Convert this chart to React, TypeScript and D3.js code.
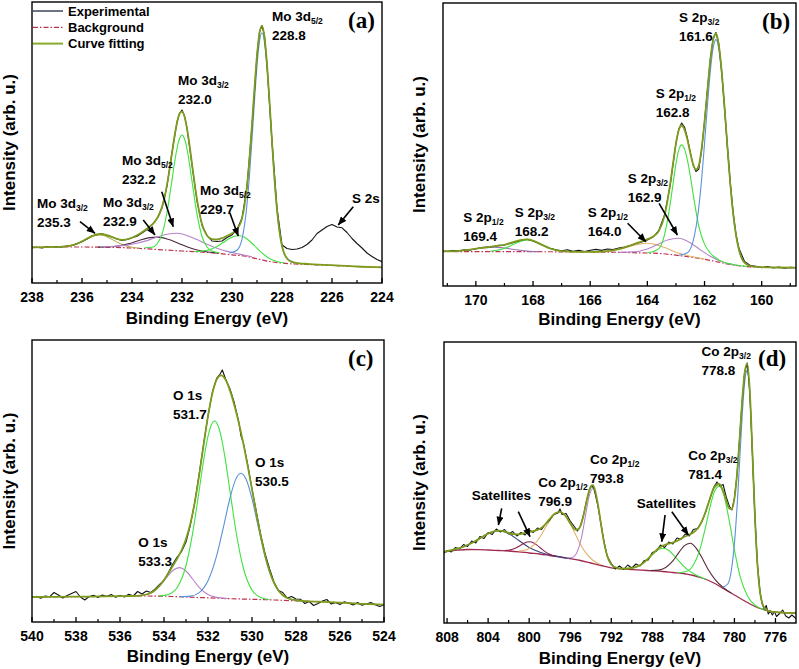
import React from "react";
import * as d3 from "d3";

type Pt = [number, number];

const FONT = "'Liberation Sans', Arial, Helvetica, sans-serif";
const SERIF = "'Liberation Serif', 'Times New Roman', serif";

// ---------------- Panel (a): Mo 3d / S 2s ----------------
const aTicksMajor = [238, 236, 234, 232, 230, 228, 226, 224];
const aTicksMinor = [237, 235, 233, 231, 229, 227, 225];
const aExp: Pt[] = [[238.0,353],[237.8,358],[237.6,350],[237.4,362],[237.2,356],[237.0,364],[236.8,360],[236.6,370],[236.4,376],[236.2,395],[236.0,412],[235.8,440],[235.6,472],[235.4,483],[235.2,492],[235.0,476],[234.8,460],[234.6,440],[234.4,426],[234.2,435],[234.0,452],[233.8,468],[233.6,500],[233.4,534],[233.2,580],[233.0,645],[232.8,750],[232.6,970],[232.4,1305],[232.2,1610],[232.1,1695],[232.0,1730],[231.9,1670],[231.8,1550],[231.6,1180],[231.4,820],[231.2,575],[231.0,475],[230.8,420],[230.6,415],[230.4,420],[230.2,455],[230.0,480],[229.8,535],[229.6,650],[229.4,960],[229.2,1570],[229.0,2280],[228.9,2510],[228.8,2575],[228.7,2470],[228.6,2190],[228.4,1420],[228.2,750],[228.0,380],[227.8,345],[227.6,335],[227.4,340],[227.2,355],[227.0,385],[226.8,430],[226.6,495],[226.4,530],[226.2,565],[226.0,585],[225.8,560],[225.6,552],[225.4,505],[225.2,445],[225.0,395],[224.8,350],[224.6,300],[224.4,265],[224.2,235],[224.0,213]];
const aBg: Pt[] = [[238,357],[237,360],[236,360],[235,357],[234,350],[233,335],[232,320],[231,305],[230,282],[229.5,270],[229,243],[228.5,215],[228,199],[227.5,190],[227,185],[226,175],[225,165],[224,157]];
const aFit: Pt[] = [[238,357],[237.4,359],[236.9,362],[236.5,372],[236.2,392],[235.9,430],[235.6,469],[235.3,490],[235.0,478],[234.7,450],[234.4,431],[234.1,444],[233.8,478],[233.5,526],[233.3,563],[233.1,609],[232.9,691],[232.7,853],[232.5,1134],[232.4,1300],[232.3,1465],[232.2,1602],[232.1,1691],[232.0,1713],[231.9,1664],[231.8,1544],[231.7,1381],[231.6,1192],[231.5,1005],[231.4,836],[231.3,696],[231.2,590],[231.0,475],[230.8,438],[230.6,435],[230.4,449],[230.2,472],[230.0,498],[229.8,537],[229.6,644],[229.5,774],[229.4,970],[229.3,1246],[229.2,1586],[229.1,1950],[229.0,2277],[228.9,2502],[228.8,2571],[228.7,2459],[228.6,2189],[228.5,1818],[228.4,1415],[228.3,1040],[228.2,736],[228.1,514],[228.0,370],[227.9,289],[227.8,245],[227.6,208],[227.3,196],[227.0,191],[226.0,178],[225.0,165],[224.0,157]];
const aMo3d32_2353: Pt[] = [[236.9,362],[236.5,372],[236.3,383],[236.1,402],[235.9,427],[235.7,453],[235.5,474],[235.3,481],[235.1,472],[234.9,450],[234.7,423],[234.5,397],[234.3,376],[234.1,363],[233.7,347]];
const aMo3d32_2329: Pt[] = [[235.35,359],[234.95,362],[234.55,370],[234.15,391],[233.75,422],[233.35,451],[232.95,459],[232.55,437],[232.15,398],[231.75,357],[231.35,327],[230.95,310],[230.55,297]];
const aMo3d52_2322: Pt[] = [[235.2,363],[234.7,368],[234.2,379],[233.8,398],[233.4,424],[233.0,459],[232.6,488],[232.2,497],[231.8,476],[231.4,434],[231.0,388],[230.6,348],[230.2,316],[229.7,289],[229.2,261]];
const aMo3d32_2320: Pt[] = [[233.5,353],[233.2,358],[233.0,390],[232.8,488],[232.6,705],[232.4,1029],[232.3,1200],[232.2,1345],[232.1,1445],[232.0,1480],[231.9,1443],[231.8,1340],[231.7,1192],[231.6,1018],[231.4,688],[231.2,465],[231.0,360],[230.8,320],[230.5,303]];
const aMo3d52_2297: Pt[] = [[231.5,315],[231.2,319],[230.9,333],[230.7,352],[230.5,380],[230.3,413],[230.1,446],[229.9,467],[229.7,472],[229.5,457],[229.3,420],[229.1,373],[228.9,324],[228.7,280],[228.5,245],[228.2,215],[227.9,200]];
const aMo3d52_2288: Pt[] = [[230.1,301],[229.8,328],[229.6,438],[229.4,787],[229.3,1079],[229.2,1438],[229.1,1823],[229.0,2172],[228.9,2417],[228.8,2502],[228.7,2405],[228.6,2147],[228.5,1788],[228.4,1393],[228.3,1026],[228.2,726],[228.0,366],[227.8,246],[227.5,205]];

// ---------------- Panel (b): S 2p ----------------
const bTicksMajor = [170, 168, 166, 164, 162, 160];
const bTicksMinor = [171, 169, 167, 165, 163, 161, 159];
const bExp: Pt[] = [[171.15,350],[171.0,346],[170.8,354],[170.6,352],[170.4,363],[170.2,360],[170.0,372],[169.8,384],[169.6,390],[169.4,392],[169.2,406],[169.0,410],[168.8,426],[168.6,442],[168.4,460],[168.2,468],[168.0,450],[167.8,426],[167.6,400],[167.4,378],[167.2,362],[167.0,352],[166.8,363],[166.6,346],[166.4,356],[166.2,344],[166.0,357],[165.8,366],[165.6,356],[165.4,370],[165.2,365],[165.0,380],[164.8,390],[164.6,405],[164.4,425],[164.2,440],[164.0,460],[163.8,490],[163.6,555],[163.4,710],[163.2,1010],[163.1,1220],[163.0,1430],[162.9,1570],[162.8,1630],[162.7,1590],[162.6,1480],[162.5,1340],[162.4,1210],[162.3,1145],[162.2,1170],[162.1,1360],[162.0,1650],[161.9,1960],[161.8,2260],[161.7,2470],[161.6,2535],[161.5,2420],[161.4,2150],[161.3,1790],[161.2,1400],[161.1,1040],[161.0,740],[160.9,520],[160.8,380],[160.6,245],[160.4,205],[160.2,197],[160.0,183],[159.8,195],[159.6,180],[159.4,189],[159.2,178],[159.0,186],[158.8,182]];
const bBg: Pt[] = [[171.15,345],[170,344],[168,343],[166,340],[165,337],[164.5,333],[164,330],[163.5,324],[163,308],[162.5,290],[162,268],[161.5,238],[161,210],[160.5,194],[160,188],[158.8,183]];
const bFit: Pt[] = [[171.15,346],[170.6,351],[170.2,363],[169.8,381],[169.4,396],[169.0,412],[168.7,438],[168.4,462],[168.2,466],[168.0,454],[167.7,414],[167.4,375],[167.0,348],[166.5,341],[166.0,341],[165.5,346],[165.0,368],[164.6,403],[164.3,436],[164.0,468],[163.8,495],[163.6,550],[163.4,703],[163.2,1023],[163.1,1228],[163.0,1423],[162.9,1559],[162.8,1605],[162.7,1562],[162.6,1464],[162.5,1333],[162.4,1219],[162.3,1164],[162.2,1206],[162.1,1378],[162.0,1642],[161.9,1950],[161.8,2256],[161.7,2459],[161.6,2525],[161.5,2409],[161.4,2147],[161.3,1786],[161.2,1394],[161.1,1028],[161.0,729],[160.9,512],[160.8,368],[160.6,234],[160.3,193],[160.0,188],[159.5,185],[158.8,183]];
const bS2p12_1694: Pt[] = [[171.0,345],[170.6,350],[170.2,363],[169.8,380],[169.4,389],[169.0,380],[168.6,362],[168.2,349],[167.8,344]];
const bS2p32_1682: Pt[] = [[169.5,348],[169.1,367],[168.8,400],[168.6,428],[168.4,451],[168.2,460],[168.0,451],[167.8,428],[167.6,400],[167.3,365],[166.9,346]];
const bS2p12_1640: Pt[] = [[166.0,341],[165.5,346],[165.0,367],[164.6,397],[164.3,419],[164.0,427],[163.7,414],[163.4,384],[163.0,338],[162.5,297],[162.0,269]];
const bS2p32_1629: Pt[] = [[165.0,338],[164.5,341],[164.0,371],[163.6,421],[163.3,460],[162.9,477],[162.5,432],[162.2,373],[161.8,297],[161.3,233],[160.8,203]];
const bS2p12_1628: Pt[] = [[164.0,330],[163.6,374],[163.4,512],[163.2,823],[163.1,1027],[163.0,1222],[162.9,1362],[162.8,1411],[162.7,1369],[162.6,1261],[162.5,1103],[162.4,924],[162.3,749],[162.2,597],[162.0,419],[161.8,330],[161.5,261],[161.0,215],[160.5,194]];
const bS2p32_1616: Pt[] = [[162.9,307],[162.6,332],[162.4,448],[162.2,788],[162.1,1073],[162.0,1425],[161.9,1800],[161.8,2141],[161.7,2381],[161.6,2464],[161.5,2369],[161.4,2117],[161.3,1764],[161.2,1377],[161.1,1016],[161.0,721],[160.8,364],[160.6,234],[160.3,193]];

// ---------------- Panel (c): O 1s ----------------
const cTicksMajor = [540, 538, 536, 534, 532, 530, 528, 526, 524];
const cTicksMinor = [539, 537, 535, 533, 531, 529, 527, 525];
const cExp: Pt[] = [[540.0,245],[539.8,256],[539.6,238],[539.4,260],[539.2,252],[539.0,295],[538.8,270],[538.6,240],[538.4,265],[538.2,285],[538.0,305],[537.8,250],[537.6,220],[537.4,255],[537.2,268],[537.0,245],[536.8,270],[536.6,255],[536.4,275],[536.2,248],[536.0,265],[535.8,250],[535.6,278],[535.4,260],[535.2,305],[535.0,280],[534.8,310],[534.6,295],[534.4,330],[534.2,375],[534.0,415],[533.8,495],[533.6,580],[533.4,650],[533.2,705],[533.0,800],[532.8,970],[532.6,1200],[532.4,1480],[532.2,1780],[532.0,2060],[531.8,2300],[531.6,2440],[531.45,2480],[531.35,2520],[531.2,2430],[531.0,2330],[530.8,2190],[530.6,2000],[530.5,1860],[530.4,1800],[530.2,1580],[530.0,1330],[529.8,1100],[529.6,870],[529.4,680],[529.2,530],[529.0,400],[528.8,315],[528.6,295],[528.4,240],[528.2,255],[528.0,230],[527.8,228],[527.6,185],[527.4,205],[527.2,165],[527.0,185],[526.8,210],[526.6,225],[526.4,180],[526.2,195],[526.0,175],[525.8,202],[525.6,188],[525.4,170],[525.2,195],[525.0,168],[524.8,180],[524.6,195],[524.4,172],[524.2,155],[524.0,170]];
const cBg: Pt[] = [[540,250],[538,253],[536,258],[535,260],[534,258],[533.5,254],[533,250],[532.5,245],[532,242],[531.5,238],[531,233],[530.5,230],[530,227],[529.5,224],[529,220],[528,212],[527,203],[526,193],[525,182],[524,173]];
const cFit: Pt[] = [[540,250],[538,253],[536,258],[535.4,260],[535.2,262],[535.0,267],[534.8,275],[534.6,291],[534.4,320],[534.2,363],[534.0,420],[533.8,487],[533.6,560],[533.4,634],[533.2,719],[533.0,830],[532.8,985],[532.6,1199],[532.4,1471],[532.2,1772],[532.0,2058],[531.8,2288],[531.6,2427],[531.4,2466],[531.2,2421],[531.0,2314],[530.8,2166],[530.6,1992],[530.4,1791],[530.2,1566],[530.0,1327],[529.8,1084],[529.6,857],[529.4,660],[529.2,505],[529.0,391],[528.8,314],[528.6,268],[528.4,240],[528.2,225],[528.0,217],[527.6,209],[527,203],[526,193],[525,182],[524,173]];
const cO1s_5333: Pt[] = [[535.5,260],[535.0,267],[534.6,291],[534.2,360],[533.9,440],[533.6,515],[533.3,544],[533.0,510],[532.7,430],[532.4,346],[532.0,274],[531.6,246],[531.1,235]];
const cO1s_5317: Pt[] = [[534.2,261],[533.8,276],[533.4,345],[533.0,565],[532.7,886],[532.4,1318],[532.2,1615],[532.0,1856],[531.85,1970],[531.7,2010],[531.55,1968],[531.4,1851],[531.2,1607],[531.0,1307],[530.7,870],[530.4,545],[530.0,319],[529.6,245],[529.2,225]];
const cO1s_5305: Pt[] = [[533.3,253],[532.8,259],[532.4,294],[532.0,412],[531.6,668],[531.3,947],[531.0,1240],[530.75,1421],[530.5,1487],[530.25,1418],[530.0,1234],[529.7,936],[529.4,652],[529.0,390],[528.6,267],[528.2,225],[527.7,210]];

// ---------------- Panel (d): Co 2p ----------------
const dTicksMajor = [808, 804, 800, 796, 792, 788, 784, 780, 776];
const dTicksMinor = [806, 802, 798, 794, 790, 786, 782, 778];
const dExp: Pt[] = [[808.3,700],[808.0,725],[807.6,710],[807.2,755],[806.8,740],[806.4,785],[806.0,765],[805.6,820],[805.2,800],[804.8,865],[804.4,845],[804.0,905],[803.6,885],[803.2,940],[802.8,910],[802.4,935],[802.0,890],[801.6,915],[801.2,870],[800.8,905],[800.4,880],[800.0,930],[799.6,905],[799.2,950],[798.8,935],[798.4,990],[798.0,1030],[797.6,1085],[797.2,1100],[797.0,1140],[796.8,1085],[796.4,1095],[796.0,1020],[795.6,965],[795.3,920],[795.0,970],[794.7,1080],[794.4,1230],[794.1,1340],[793.9,1370],[793.7,1350],[793.5,1260],[793.3,1170],[793.0,990],[792.7,810],[792.4,670],[792.0,595],[791.6,540],[791.2,570],[790.8,535],[790.4,580],[790.0,550],[789.6,590],[789.2,570],[788.8,625],[788.4,630],[788.0,705],[787.6,720],[787.2,780],[786.8,755],[786.4,810],[786.0,790],[785.6,850],[785.2,835],[784.8,890],[784.4,870],[784.0,935],[783.6,945],[783.2,1010],[782.8,1110],[782.4,1240],[782.0,1360],[781.7,1410],[781.4,1370],[781.1,1385],[780.8,1260],[780.5,1170],[780.25,1130],[780.0,1250],[779.75,1480],[779.5,1840],[779.25,2210],[779.0,2510],[778.75,2600],[778.5,2310],[778.25,1700],[778.0,1060],[777.75,580],[777.5,310],[777.3,195],[777.1,140],[776.9,175],[776.7,90],[776.5,120],[776.3,80],[776.1,115],[775.9,65],[775.6,95],[775.3,130],[775.0,70],[774.7,50],[774.4,80],[774.0,45]];
const dBg: Pt[] = [[808.3,710],[807,728],[806,735],[805,734],[804,730],[803,725],[802,720],[801,712],[800,700],[799,690],[798,675],[797,660],[796,643],[795,625],[794,600],[793,575],[792,552],[791,542],[790,535],[789,528],[788,522],[787,515],[786,505],[785,495],[784,475],[783,445],[782,400],[781,340],[780,280],[779,220],[778,165],[777,130],[776,108],[775,102],[774,100]];
const dFit: Pt[] = [[808.3,712],[807.5,730],[807.0,743],[806.5,759],[806.0,780],[805.5,805],[805.0,834],[804.5,865],[804.0,894],[803.5,915],[803.0,923],[802.5,918],[802.0,902],[801.5,888],[801.0,887],[800.5,898],[800.0,911],[799.5,921],[799.0,940],[798.5,979],[798.0,1041],[797.5,1095],[797.0,1111],[796.5,1075],[796.0,999],[795.5,933],[795.2,938],[794.9,1001],[794.6,1124],[794.3,1267],[794.0,1367],[793.8,1378],[793.6,1336],[793.3,1186],[793.0,988],[792.7,803],[792.4,673],[792.0,585],[791.5,552],[791.0,544],[790.5,544],[790.0,549],[789.5,563],[789.0,591],[788.5,635],[788.0,688],[787.5,737],[787.0,772],[786.5,791],[786.0,804],[785.5,825],[785.0,855],[784.5,880],[784.0,906],[783.5,954],[783.0,1058],[782.5,1208],[782.0,1350],[781.5,1390],[781.0,1291],[780.75,1209],[780.5,1144],[780.25,1140],[780.0,1246],[779.75,1484],[779.5,1835],[779.25,2218],[779.0,2507],[778.75,2593],[778.5,2316],[778.25,1712],[778.0,1060],[777.75,577],[777.5,304],[777.25,186],[777.0,142],[776.5,114],[776.0,108],[775.0,102],[774.0,100]];
const dSat_8029: Pt[] = [[808.3,712],[807,743],[806,780],[805,834],[804,894],[803,923],[802,895],[801,825],[800,754],[799,709],[798,680],[797,661],[796,643]];
const dSat_7999: Pt[] = [[802.4,724],[801.8,731],[801.3,749],[800.9,772],[800.5,797],[800.2,810],[799.9,812],[799.6,803],[799.3,784],[798.9,750],[798.5,716],[798.0,687],[797.4,668]];
const dCo2p12_7969: Pt[] = [[801.0,720],[800.2,736],[799.5,786],[798.9,868],[798.3,972],[797.7,1067],[797.0,1110],[796.3,1045],[795.7,931],[795.1,806],[794.5,704],[793.8,628],[793.0,583]];
const dCo2p12_7938: Pt[] = [[796.3,650],[795.8,655],[795.3,716],[794.9,855],[794.5,1080],[794.15,1271],[793.8,1345],[793.45,1253],[793.1,1044],[792.7,799],[792.3,642],[791.8,566],[791.3,547]];
const dSat_7869: Pt[] = [[791.0,544],[790.0,549],[789.2,578],[788.5,634],[787.9,694],[787.4,734],[786.9,747],[786.4,725],[785.9,677],[785.3,607],[784.6,536],[783.8,483],[782.8,438]];
const dSat_7843: Pt[] = [[788.2,525],[787.4,529],[786.7,555],[786.0,621],[785.4,707],[784.9,771],[784.3,798],[783.7,744],[783.2,659],[782.6,543],[781.9,437],[781.1,355],[780.3,299]];
const dCo2p32_7814: Pt[] = [[785.5,503],[784.7,515],[784.0,580],[783.4,724],[782.8,967],[782.3,1192],[781.9,1326],[781.45,1367],[781.0,1266],[780.5,1021],[780.0,732],[779.4,448],[778.7,266],[777.9,171],[777.0,130]];
const dCo2p32_7788: Pt[] = [[781.15,359],[780.65,390],[780.25,560],[779.95,856],[779.7,1234],[779.45,1693],[779.25,2058],[779.05,2352],[778.9,2488],[778.75,2529],[778.6,2432],[778.45,2180],[778.25,1691],[778.05,1168],[777.85,737],[777.55,343],[777.25,185],[776.85,130]];

// ---------------- annotations (data coordinates) ----------------
type Note = { e: number; c: number; main: string; sub?: string; val?: string };
type Arrow = [number, number, number, number];

const aNotes: Note[] = [
  { e: 228.4, c: 2620, main: "Mo 3d", sub: "5/2", val: "228.8" },
  { e: 232.16, c: 1980, main: "Mo 3d", sub: "3/2", val: "232.0" },
  { e: 234.4, c: 1180, main: "Mo 3d", sub: "5/2", val: "232.2" },
  { e: 237.8, c: 750, main: "Mo 3d", sub: "3/2", val: "235.3" },
  { e: 235.16, c: 760, main: "Mo 3d", sub: "3/2", val: "232.9" },
  { e: 231.28, c: 880, main: "Mo 3d", sub: "5/2", val: "229.7" },
  { e: 225.2, c: 800, main: "S 2s" },
];
const aArrows: Arrow[] = [
  [236.08, 613, 235.48, 497],
  [233.55, 630, 233.08, 480],
  [232.81, 913, 232.35, 563],
  [230.08, 697, 229.75, 470],
  [225.15, 763, 225.75, 580],
];
const bNotes: Note[] = [
  { e: 162.89, c: 2640, main: "S 2p", sub: "3/2", val: "161.6" },
  { e: 163.71, c: 1880, main: "S 2p", sub: "1/2", val: "162.8" },
  { e: 164.69, c: 1030, main: "S 2p", sub: "3/2", val: "162.9" },
  { e: 166.09, c: 693, main: "S 2p", sub: "1/2", val: "164.0" },
  { e: 168.64, c: 693, main: "S 2p", sub: "3/2", val: "168.2" },
  { e: 170.44, c: 643, main: "S 2p", sub: "1/2", val: "169.4" },
];
const bArrows: Arrow[] = [
  [164.69, 627, 164.05, 443],
  [163.59, 827, 162.95, 510],
];
const cNotes: Note[] = [
  { e: 533.59, c: 2220, main: "O 1s", val: "531.7" },
  { e: 529.86, c: 1553, main: "O 1s", val: "530.5" },
  { e: 535.17, c: 753, main: "O 1s", val: "533.3" },
];
const dNotes: Note[] = [
  { e: 783.2, c: 2670, main: "Co 2p", sub: "3/2", val: "778.8" },
  { e: 784.5, c: 1630, main: "Co 2p", sub: "3/2", val: "781.4" },
  { e: 794.07, c: 1590, main: "Co 2p", sub: "1/2", val: "793.8" },
  { e: 799.11, c: 1360, main: "Co 2p", sub: "1/2", val: "796.9" },
  { e: 805.6, c: 1230, main: "Satellites" },
  { e: 789.52, c: 1150, main: "Satellites" },
];
const dArrows: Arrow[] = [
  [802.68, 1147, 803.0, 980],
  [801.06, 1113, 799.92, 863],
  [786.76, 1080, 787.08, 813],
  [786.1, 1113, 784.49, 880],
];

const legendLabels = ["Experimental", "Background", "Curve fitting"];

// ---------------- styles ----------------
const C_EXP = "#141414";
const C_BG = "#c0304f";
const C_FIT = "#7d9c1e";
const C_BLUE = "#5a92d8";
const C_GREEN = "#3fe23f";
const C_PURPLE = "#b784c9";
const C_TAN = "#e2b46a";

type Curve = { data: Pt[]; color: string; width: number; dash?: string; raw?: boolean };
type PanelDef = {
  id: string; tag: string;
  left: number; right: number; top: number; bottom: number;
  xDomain: [number, number]; yMax: number;
  majors: number[]; minors: number[];
  curves: Curve[]; notes: Note[]; arrows: Arrow[];
  yTitleX: number; xTitleY: number; tagX: number; tagY: number;
};

const bgDash = "5,2,1.5,2";

const panels: PanelDef[] = [
  {
    id: "a", tag: "(a)", left: 32, right: 382, top: 2, bottom: 283,
    xDomain: [238, 224], yMax: 2810, majors: aTicksMajor, minors: aTicksMinor,
    curves: [
      { data: aBg, color: C_BG, width: 1.2, dash: bgDash },
      { data: aMo3d32_2353, color: "#b3ad55", width: 1.1 },
      { data: aMo3d32_2329, color: "#4b2740", width: 1.1 },
      { data: aMo3d52_2322, color: C_PURPLE, width: 1.1 },
      { data: aMo3d32_2320, color: C_GREEN, width: 1.1 },
      { data: aMo3d52_2297, color: C_GREEN, width: 1.1 },
      { data: aMo3d52_2288, color: C_BLUE, width: 1.1 },
      { data: aExp, color: C_EXP, width: 1.1, raw: true },
      { data: aFit, color: C_FIT, width: 1.8 },
    ],
    notes: aNotes, arrows: aArrows, yTitleX: 15, xTitleY: 324, tagX: 348, tagY: 28,
  },
  {
    id: "b", tag: "(b)", left: 443, right: 796, top: 3, bottom: 286,
    xDomain: [171.15, 158.8], yMax: 2830, majors: bTicksMajor, minors: bTicksMinor,
    curves: [
      { data: bBg, color: C_BG, width: 1.2, dash: bgDash },
      { data: bS2p12_1694, color: "#9c6fb0", width: 1.1 },
      { data: bS2p32_1682, color: C_GREEN, width: 1.1 },
      { data: bS2p12_1640, color: C_TAN, width: 1.1 },
      { data: bS2p32_1629, color: C_PURPLE, width: 1.1 },
      { data: bS2p12_1628, color: C_GREEN, width: 1.1 },
      { data: bS2p32_1616, color: C_BLUE, width: 1.1 },
      { data: bExp, color: C_EXP, width: 1.1, raw: true },
      { data: bFit, color: C_FIT, width: 1.8 },
    ],
    notes: bNotes, arrows: bArrows, yTitleX: 425, xTitleY: 325, tagX: 762, tagY: 29,
  },
  {
    id: "c", tag: "(c)", left: 32, right: 384, top: 340, bottom: 622,
    xDomain: [540, 524], yMax: 2820, majors: cTicksMajor, minors: cTicksMinor,
    curves: [
      { data: cBg, color: C_BG, width: 1.2, dash: bgDash },
      { data: cO1s_5333, color: C_PURPLE, width: 1.1 },
      { data: cO1s_5317, color: C_GREEN, width: 1.1 },
      { data: cO1s_5305, color: C_BLUE, width: 1.1 },
      { data: cExp, color: C_EXP, width: 1.1, raw: true },
      { data: cFit, color: C_FIT, width: 1.8 },
    ],
    notes: cNotes, arrows: [], yTitleX: 15, xTitleY: 662, tagX: 348, tagY: 366,
  },
  {
    id: "d", tag: "(d)", left: 444, right: 796, top: 342, bottom: 623,
    xDomain: [808.3, 774], yMax: 2810, majors: dTicksMajor, minors: dTicksMinor,
    curves: [
      { data: dBg, color: "#a02a4e", width: 1.3 },
      { data: dSat_8029, color: "#37447e", width: 1.1 },
      { data: dSat_7999, color: "#8e1f4f", width: 1.1 },
      { data: dCo2p12_7969, color: C_TAN, width: 1.1 },
      { data: dCo2p12_7938, color: C_PURPLE, width: 1.1 },
      { data: dSat_7869, color: C_GREEN, width: 1.1 },
      { data: dSat_7843, color: "#5a2a33", width: 1.1 },
      { data: dCo2p32_7814, color: C_GREEN, width: 1.1 },
      { data: dCo2p32_7788, color: C_BLUE, width: 1.1 },
      { data: dExp, color: C_EXP, width: 1.1, raw: true },
      { data: dFit, color: C_FIT, width: 1.8 },
    ],
    notes: dNotes, arrows: dArrows, yTitleX: 425, xTitleY: 664, tagX: 758, tagY: 366,
  },
];

function Panel({ def }: { def: PanelDef }) {
  const x = d3.scaleLinear().domain(def.xDomain).range([def.left, def.right]);
  const y = d3.scaleLinear().domain([0, def.yMax]).range([def.bottom, def.top]);
  const smooth = d3.line<Pt>().x((d) => x(d[0])).y((d) => y(d[1])).curve(d3.curveMonotoneX);
  const linear = d3.line<Pt>().x((d) => x(d[0])).y((d) => y(d[1]));
  const midX = (def.left + def.right) / 2;
  const midY = (def.top + def.bottom) / 2;
  return (
    <g>
      <defs>
        <clipPath id={`clip-${def.id}`}>
          <rect x={def.left} y={def.top} width={def.right - def.left} height={def.bottom - def.top} />
        </clipPath>
      </defs>
      <g clipPath={`url(#clip-${def.id})`}>
        {def.curves.map((c, i) => (
          <path key={i} d={(c.raw ? linear : smooth)(c.data) || ""} fill="none" stroke={c.color}
            strokeWidth={c.width} strokeDasharray={c.dash} strokeLinejoin="round" />
        ))}
      </g>
      <rect x={def.left} y={def.top} width={def.right - def.left} height={def.bottom - def.top}
        fill="none" stroke="#000" strokeWidth={1.4} />
      {def.majors.map((t) => (
        <g key={`M${t}`}>
          <line x1={x(t)} x2={x(t)} y1={def.bottom} y2={def.bottom - 5} stroke="#000" strokeWidth={1.3} />
          <text x={x(t)} y={def.bottom + 19} textAnchor="middle" fontSize={14} fontWeight="bold" fontFamily={FONT}>{t}</text>
        </g>
      ))}
      {def.minors.map((t) => (
        <line key={`m${t}`} x1={x(t)} x2={x(t)} y1={def.bottom} y2={def.bottom - 3} stroke="#000" strokeWidth={1.2} />
      ))}
      <text x={midX} y={def.xTitleY} textAnchor="middle" fontSize={17} fontWeight="bold" fontFamily={FONT}>
        Binding Energy (eV)
      </text>
      <text transform={`translate(${def.yTitleX},${midY}) rotate(-90)`} textAnchor="middle" fontSize={17}
        fontWeight="bold" fontFamily={FONT}>
        Intensity (arb. u.)
      </text>
      {def.notes.map((n, i) => (
        <g key={`n${i}`} fontFamily={FONT} fontWeight="bold" fill="#000">
          <text x={x(n.e)} y={y(n.c)} fontSize={13.5}>
            {n.main}
            {n.sub ? <tspan fontSize={8.5} dy={3}>{n.sub}</tspan> : null}
          </text>
          {n.val ? <text x={x(n.e)} y={y(n.c) + 19} fontSize={13.5}>{n.val}</text> : null}
        </g>
      ))}
      {def.arrows.map((a, i) => (
        <line key={`a${i}`} x1={x(a[0])} y1={y(a[1])} x2={x(a[2])} y2={y(a[3])} stroke="#000"
          strokeWidth={1.6} markerEnd="url(#arrowhead)" />
      ))}
      <text x={def.tagX} y={def.tagY} fontSize={23} fontWeight="bold" fontFamily={SERIF}>{def.tag}</text>
    </g>
  );
}

export default function App() {
  const legendStyles = [
    { color: "#1c2a3c", width: 1.3, dash: undefined as string | undefined },
    { color: C_BG, width: 1.2, dash: bgDash },
    { color: "#8aac2c", width: 2, dash: undefined as string | undefined },
  ];
  return (
    <svg width={799} height={669} viewBox="0 0 799 669"
      style={{ position: "absolute", left: 0, top: 0, background: "#fff" }}>
      <defs>
        <marker id="arrowhead" viewBox="0 0 10 8" refX={9.5} refY={4} markerWidth={9} markerHeight={7}
          markerUnits="userSpaceOnUse" orient="auto">
          <path d="M0,0 L10,4 L0,8 z" fill="#000" />
        </marker>
      </defs>
      <rect x={0} y={0} width={799} height={669} fill="#fff" />
      {panels.map((p) => <Panel key={p.id} def={p} />)}
      <g fontFamily={FONT} fontWeight="bold" fontSize={13}>
        {legendLabels.map((l, i) => (
          <g key={l}>
            <line x1={33} x2={63} y1={11 + i * 16.3} y2={11 + i * 16.3} stroke={legendStyles[i].color}
              strokeWidth={legendStyles[i].width} strokeDasharray={legendStyles[i].dash} />
            <text x={68} y={15.5 + i * 16.3}>{l}</text>
          </g>
        ))}
      </g>
    </svg>
  );
}
